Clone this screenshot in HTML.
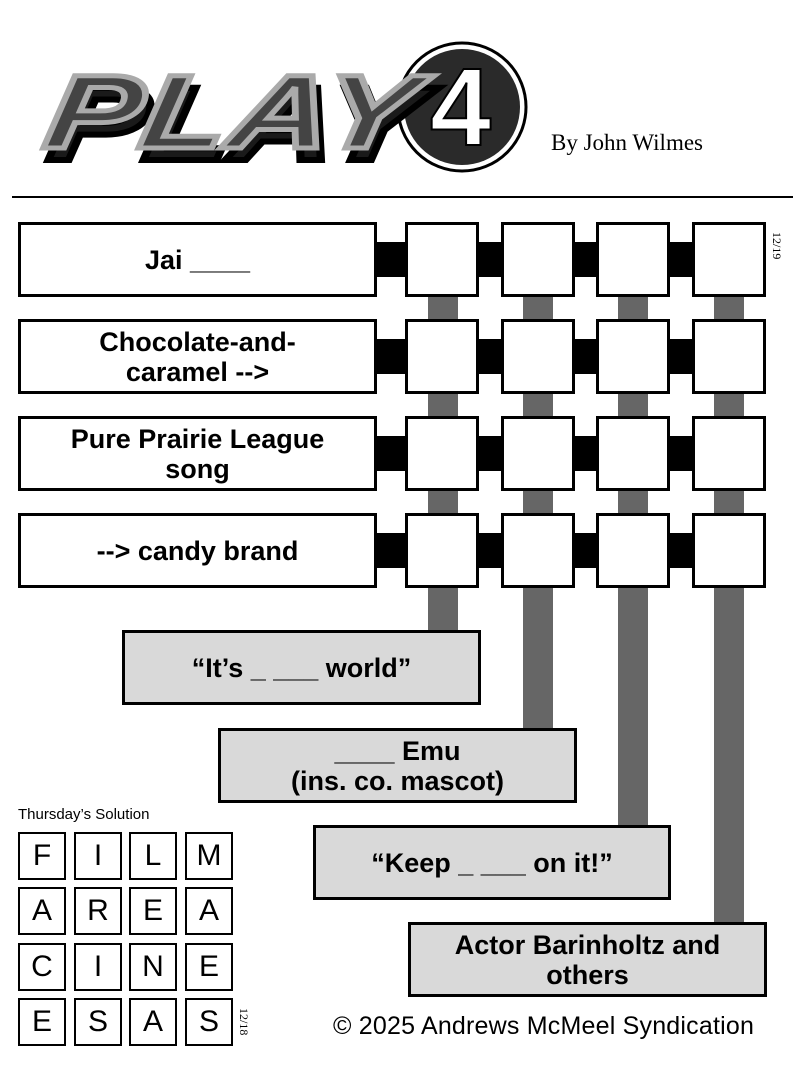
<!DOCTYPE html>
<html><head><meta charset="utf-8"><style>
body{margin:0;background:#fff;width:802px;height:1075px;position:relative;overflow:hidden;font-family:"Liberation Sans",sans-serif}
.a{position:absolute;box-sizing:border-box}
.clue{border:3px solid #000;background:#fff;display:flex;align-items:center;justify-content:center;text-align:center;font-weight:bold;font-size:27px;line-height:30px}
.g{background:#d9d9d9}
.sq{border:3px solid #000;background:#fff}
.bk{background:#000}
.bar{background:#666}
.s{border:2px solid #000;background:#fff;font-size:30px;display:flex;align-items:center;justify-content:center}
</style></head><body>
<svg class="a" style="left:0;top:0" width="802" height="190">
 <circle cx="462" cy="107" r="64" fill="#fff" stroke="#000" stroke-width="3"/>
 <circle cx="462" cy="107" r="58" fill="#2a2a2a"/>
 <text x="52" y="160" font-family="Liberation Sans" font-weight="bold" font-style="italic" font-size="105" fill="#1a1a1a" stroke="#000" stroke-width="6" textLength="370" lengthAdjust="spacingAndGlyphs" transform="skewX(-10) translate(22,0)">PLAY</text>
 <text x="45" y="148" font-family="Liberation Sans" font-weight="bold" font-style="italic" font-size="105" fill="#444" stroke="#aaa" stroke-width="5" textLength="370" lengthAdjust="spacingAndGlyphs" transform="skewX(-10) translate(22,0)">PLAY</text>
 <text x="430" y="145" font-family="Liberation Sans" font-weight="bold" font-size="110" fill="#fff" stroke="#000" stroke-width="2">4</text>
 <text x="551" y="150" font-family="Liberation Serif" font-size="23" fill="#000">By John Wilmes</text>
</svg>
<div class="a bk" style="left:12px;top:196px;width:781px;height:2px"></div>

<div class="a bar" style="left:428px;top:290px;width:30px;height:342px"></div>
<div class="a bar" style="left:523px;top:290px;width:30px;height:440px"></div>
<div class="a bar" style="left:618px;top:290px;width:30px;height:537px"></div>
<div class="a bar" style="left:714px;top:290px;width:30px;height:634px"></div>

<div class="a bk" style="left:370px;top:242px;width:330px;height:35px"></div>
<div class="a bk" style="left:370px;top:339px;width:330px;height:35px"></div>
<div class="a bk" style="left:370px;top:436px;width:330px;height:35px"></div>
<div class="a bk" style="left:370px;top:533px;width:330px;height:35px"></div>

<div class="a clue" style="left:18px;top:222px;width:359px;height:75px">Jai ____</div>
<div class="a clue" style="left:18px;top:319px;width:359px;height:75px">Chocolate-and-<br>caramel --&gt;</div>
<div class="a clue" style="left:18px;top:416px;width:359px;height:75px">Pure Prairie League<br>song</div>
<div class="a clue" style="left:18px;top:513px;width:359px;height:75px">--&gt; candy brand</div>

<div class="a sq" style="left:405px;top:222px;width:74px;height:75px"></div>
<div class="a sq" style="left:501px;top:222px;width:74px;height:75px"></div>
<div class="a sq" style="left:596px;top:222px;width:74px;height:75px"></div>
<div class="a sq" style="left:692px;top:222px;width:74px;height:75px"></div>
<div class="a sq" style="left:405px;top:319px;width:74px;height:75px"></div>
<div class="a sq" style="left:501px;top:319px;width:74px;height:75px"></div>
<div class="a sq" style="left:596px;top:319px;width:74px;height:75px"></div>
<div class="a sq" style="left:692px;top:319px;width:74px;height:75px"></div>
<div class="a sq" style="left:405px;top:416px;width:74px;height:75px"></div>
<div class="a sq" style="left:501px;top:416px;width:74px;height:75px"></div>
<div class="a sq" style="left:596px;top:416px;width:74px;height:75px"></div>
<div class="a sq" style="left:692px;top:416px;width:74px;height:75px"></div>
<div class="a sq" style="left:405px;top:513px;width:74px;height:75px"></div>
<div class="a sq" style="left:501px;top:513px;width:74px;height:75px"></div>
<div class="a sq" style="left:596px;top:513px;width:74px;height:75px"></div>
<div class="a sq" style="left:692px;top:513px;width:74px;height:75px"></div>
<div class="a" style="top:232px;font-family:'Liberation Serif',serif;font-size:12px;transform:rotate(90deg);transform-origin:0 0;left:784px">12/19</div>

<div class="a clue g" style="left:122px;top:630px;width:359px;height:75px">“It’s _ ___ world”</div>
<div class="a clue g" style="left:218px;top:728px;width:359px;height:75px">____ Emu<br>(ins. co. mascot)</div>
<div class="a clue g" style="left:313px;top:825px;width:358px;height:75px">“Keep _ ___ on it!”</div>
<div class="a clue g" style="left:408px;top:922px;width:359px;height:75px">Actor Barinholtz and<br>others</div>

<div class="a" style="left:18px;top:806px;font-size:15px">Thursday’s Solution</div>
<div class="a s" style="left:18px;top:832px;width:48px;height:48px">F</div>
<div class="a s" style="left:74px;top:832px;width:48px;height:48px">I</div>
<div class="a s" style="left:129px;top:832px;width:48px;height:48px">L</div>
<div class="a s" style="left:185px;top:832px;width:48px;height:48px">M</div>
<div class="a s" style="left:18px;top:887px;width:48px;height:48px">A</div>
<div class="a s" style="left:74px;top:887px;width:48px;height:48px">R</div>
<div class="a s" style="left:129px;top:887px;width:48px;height:48px">E</div>
<div class="a s" style="left:185px;top:887px;width:48px;height:48px">A</div>
<div class="a s" style="left:18px;top:943px;width:48px;height:48px">C</div>
<div class="a s" style="left:74px;top:943px;width:48px;height:48px">I</div>
<div class="a s" style="left:129px;top:943px;width:48px;height:48px">N</div>
<div class="a s" style="left:185px;top:943px;width:48px;height:48px">E</div>
<div class="a s" style="left:18px;top:998px;width:48px;height:48px">E</div>
<div class="a s" style="left:74px;top:998px;width:48px;height:48px">S</div>
<div class="a s" style="left:129px;top:998px;width:48px;height:48px">A</div>
<div class="a s" style="left:185px;top:998px;width:48px;height:48px">S</div>
<div class="a" style="left:251px;top:1008px;font-family:'Liberation Serif',serif;font-size:12px;transform:rotate(90deg);transform-origin:0 0">12/18</div>

<div class="a" style="left:333px;top:1012px;font-size:25px;letter-spacing:0.2px">© 2025 Andrews McMeel Syndication</div>
</body></html>
